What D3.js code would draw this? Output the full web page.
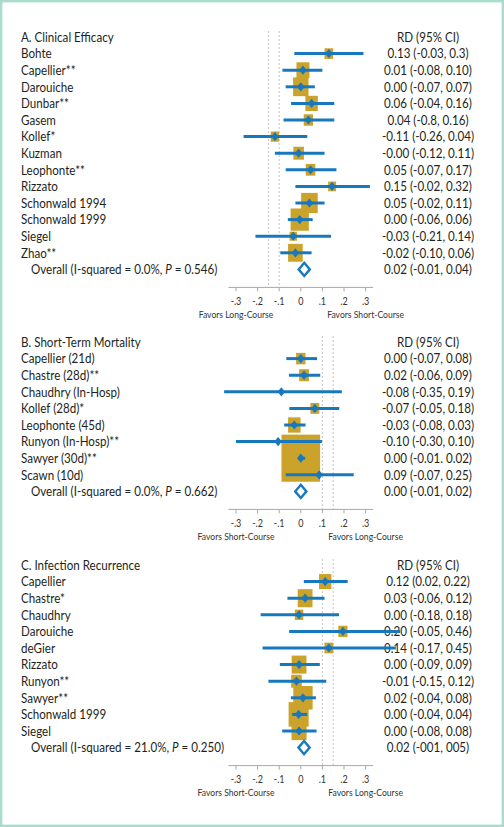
<!DOCTYPE html>
<html>
<head>
<meta charset="utf-8">
<script src="https://cdn.jsdelivr.net/npm/d3@7"></script>
<style>
  html, body { margin: 0; padding: 0; background: #fff; }
  svg { display: block; }
</style>
</head>
<body>
<svg id="chart" width="504" height="827"></svg>
<script>
// ---------------- DATA ----------------
const panelTitles = ["A. Clinical Efficacy", "B. Short-Term Mortality", "C. Infection Recurrence"];
const columnHeader = "RD (95% CI)";

// Panel A
const studiesA = ["Bohte", "Capellier**", "Darouiche", "Dunbar**", "Gasem", "Kollef*", "Kuzman", "Leophonte**", "Rizzato", "Schonwald 1994", "Schonwald 1999", "Siegel", "Zhao**"];
const estA = [0.13, 0.01, 0.00, 0.05, 0.035, -0.12, -0.01, 0.045, 0.145, 0.04, -0.005, -0.035, -0.025];
const loA  = [-0.03, -0.085, -0.07, -0.045, -0.08, -0.265, -0.12, -0.07, -0.025, -0.025, -0.06, -0.21, -0.095];
const hiA  = [0.29, 0.10, 0.065, 0.155, 0.155, 0.03, 0.11, 0.165, 0.32, 0.11, 0.055, 0.14, 0.05];
const weightA = [3.9, 8.7, 12.2, 8.0, 4.5, 3.6, 5.8, 4.8, 3.3, 14.2, 17.2, 2.8, 11.1];
const rdTextA = ["0.13 (-0.03, 0.3)", "0.01 (-0.08, 0.10)", "0.00 (-0.07, 0.07)", "0.06 (-0.04, 0.16)", "0.04 (-0.8, 0.16)", "-0.11 (-0.26, 0.04)", "-0.00 (-0.12, 0.11)", "0.05 (-0.07, 0.17)", "0.15 (-0.02, 0.32)", "0.05 (-0.02, 0.11)", "0.00 (-0.06, 0.06)", "-0.03 (-0.21, 0.14)", "-0.02 (-0.10, 0.06)"];

// Panel B
const studiesB = ["Capellier (21d)", "Chastre (28d)**", "Chaudhry (In-Hosp)", "Kollef (28d)*", "Leophonte (45d)", "Runyon (In-Hosp)**", "Sawyer (30d)**", "Scawn (10d)"];
const estB = [0.00, 0.015, -0.09, 0.065, -0.03, -0.105, 0.00, 0.085];
const loB  = [-0.067, -0.055, -0.355, -0.053, -0.077, -0.30, -0.01, -0.07];
const hiB  = [0.075, 0.09, 0.19, 0.178, 0.022, 0.098, 0.02, 0.245];
const weightB = [4.6, 5.0, 0.2, 4.1, 8.1, 0.5, 77.1, 0.5];
const rdTextB = ["0.00 (-0.07, 0.08)", "0.02 (-0.06, 0.09)", "-0.08 (-0.35, 0.19)", "-0.07 (-0.05, 0.18)", "-0.03 (-0.08, 0.03)", "-0.10 (-0.30, 0.10)", "0.00 (-0.01. 0.02)", "0.09 (-0.07, 0.25)"];

// Panel C
const studiesC = ["Capellier", "Chastre*", "Chaudhry", "Darouiche", "deGier", "Rizzato", "Runyon**", "Sawyer**", "Schonwald 1999", "Siegel"];
const estC = [0.113, 0.02, -0.008, 0.195, 0.13, -0.008, -0.02, 0.01, -0.01, -0.008];
const loC  = [0.014, -0.062, -0.186, -0.054, -0.177, -0.097, -0.15, -0.046, -0.04, -0.086];
const hiC  = [0.217, 0.11, 0.177, 0.46, 0.44, 0.088, 0.118, 0.07, 0.03, 0.073];
const weightC = [7.9, 11.3, 3.7, 4.4, 4.0, 11.3, 5.8, 19.3, 20.8, 11.7];
const rdTextC = ["0.12 (0.02, 0.22)", "0.03 (-0.06, 0.12)", "0.00 (-0.18, 0.18)", "0.20 (-0.05, 0.46)", "0.14 (-0.17, 0.45)", "0.00 (-0.09, 0.09)", "-0.01 (-0.15, 0.12)", "0.02 (-0.04, 0.08)", "0.00 (-0.04, 0.04)", "0.00 (-0.08, 0.08)"];

// Overall rows
const overallPre = ["Overall (I-squared = 0.0%, ", "Overall (I-squared = 0.0%, ", "Overall (I-squared = 21.0%, "];
const overallP = ["P", "P", "P"];
const overallPost = [" = 0.546)", " = 0.662)", " = 0.250)"];
const overallEst = [0.016, 0.0, 0.015];
const overallText = ["0.02 (-0.01, 0.04)", "0.00 (-0.01, 0.02)", "0.02 (-001, 005)"];

// Reference (margin) lines
const refLines = [[-0.15, -0.10], [0.10, 0.15], [0.10, 0.15]];

// Axis
const tickValues = [-0.3, -0.2, -0.1, 0, 0.1, 0.2, 0.3];
const tickLabels = ["-.3", "-.2", "-.1", "0", ".1", ".2", ".3"];
const favorsLeft = ["Favors Long-Course", "Favors Short-Course", "Favors Short-Course"];
const favorsRight = ["Favors Short-Course", "Favors Long-Course", "Favors Long-Course"];

// ---------------- STYLE / LAYOUT ----------------
const FONT = "Lato, 'Liberation Sans', sans-serif";
const SX = 0.86;              // horizontal compression of the original
const TEXT = "#231f20";
const BLUE = "#1878be";
const GOLD = "#cca32a";
const GRID = "#c4c4c4";
const panelTop = [37, 342, 565];
const rowStep = 16.6;

const svg = d3.select("#chart");

// frame
svg.append("rect")
  .attr("x", 1.2).attr("y", 1.2).attr("width", 501.6).attr("height", 824.6)
  .attr("fill", "none").attr("stroke", "#a9dccd").attr("stroke-width", 2.4);

const x = d3.scaleLinear().domain([-0.3, 0.3]).range([236, 365.6]);
const boxSize = d3.scaleSqrt().domain([0, 100]).range([0, 44]);

const panels = [
  {studies: studiesA, est: estA, lo: loA, hi: hiA, w: weightA, rd: rdTextA},
  {studies: studiesB, est: estB, lo: loB, hi: hiB, w: weightB, rd: rdTextB},
  {studies: studiesC, est: estC, lo: loC, hi: hiC, w: weightC, rd: rdTextC}
];

function addText(g, str, tx, ty, anchor, size, color) {
  return g.append("text")
    .attr("transform", `translate(${tx},${ty}) scale(${SX},1)`)
    .attr("dy", "0.36em")
    .attr("text-anchor", anchor)
    .attr("font-family", FONT)
    .attr("font-size", size)
    .attr("fill", color)
    .text(str);
}

panels.forEach((p, pi) => {
  const g = svg.append("g");
  const y = d3.scaleLinear().domain([0, 1]).range([panelTop[pi], panelTop[pi] + rowStep]);
  const n = p.studies.length;
  const overallRow = n + 1;
  const axisY = y(overallRow) + 18;

  const rows = p.studies.map((s, i) => ({
    name: s, est: p.est[i], lo: p.lo[i], hi: p.hi[i], w: p.w[i], rd: p.rd[i], row: i + 1
  }));

  // reference dashed lines
  g.selectAll("line.ref").data(refLines[pi]).join("line")
    .attr("class", "ref")
    .attr("x1", d => x(d)).attr("x2", d => x(d))
    .attr("y1", y(0) - 6).attr("y2", axisY)
    .attr("stroke", GRID).attr("stroke-width", 1)
    .attr("stroke-dasharray", "2,2");

  // axis
  const axisG = g.append("g").attr("transform", `translate(0,${axisY})`);
  axisG.append("line")
    .attr("x1", x(-0.335)).attr("x2", x(0.335))
    .attr("stroke", "#a8a8a8").attr("stroke-width", 1);
  axisG.selectAll("line.tick").data(tickValues).join("line")
    .attr("class", "tick")
    .attr("x1", d => x(d)).attr("x2", d => x(d))
    .attr("y1", 0).attr("y2", 4)
    .attr("stroke", "#a8a8a8").attr("stroke-width", 1);
  tickValues.forEach((v, i) => addText(axisG, tickLabels[i], x(v), 14, "middle", 10.5, "#333"));
  addText(axisG, favorsLeft[pi], x(-0.3), 27, "middle", 10, "#333");
  addText(axisG, favorsRight[pi], x(0.3), 27, "middle", 10, "#333");

  // title + header
  addText(g, panelTitles[pi], 21, y(0), "start", 13.5, TEXT);
  addText(g, columnHeader, 428, y(0), "middle", 13.5, TEXT);

  // study labels and RD text
  rows.forEach(r => {
    addText(g, r.name, 21, y(r.row), "start", 13.5, TEXT);
    addText(g, r.rd, 428, y(r.row), "middle", 13.5, TEXT);
  });

  // overall label
  const ot = addText(g, "", 31, y(overallRow), "start", 13.5, TEXT);
  ot.append("tspan").text(overallPre[pi]);
  ot.append("tspan").attr("font-style", "italic").text(overallP[pi]);
  ot.append("tspan").text(overallPost[pi]);
  addText(g, overallText[pi], 428, y(overallRow), "middle", 13.5, TEXT);

  // weight boxes
  g.selectAll("rect.box").data(rows).join("rect")
    .attr("class", "box")
    .attr("x", d => x(d.est) - boxSize(d.w) / 2)
    .attr("y", d => y(d.row) - boxSize(d.w) * 1.22 / 2)
    .attr("width", d => boxSize(d.w))
    .attr("height", d => boxSize(d.w) * 1.22)
    .attr("fill", GOLD);

  // CI lines
  g.selectAll("line.ci").data(rows).join("line")
    .attr("class", "ci")
    .attr("x1", d => x(d.lo)).attr("x2", d => x(d.hi))
    .attr("y1", d => y(d.row)).attr("y2", d => y(d.row))
    .attr("stroke", BLUE).attr("stroke-width", 3);

  // point markers
  g.selectAll("path.pt").data(rows).join("path")
    .attr("class", "pt")
    .attr("transform", d => `translate(${x(d.est)},${y(d.row)})`)
    .attr("d", "M0,-4.6L3.8,0L0,4.6L-3.8,0Z")
    .attr("fill", BLUE);

  // overall diamond
  g.append("path")
    .attr("transform", `translate(${x(overallEst[pi])},${y(overallRow)})`)
    .attr("d", "M0,-6.6L5.6,0L0,6.6L-5.6,0Z")
    .attr("fill", "#fff").attr("stroke", BLUE).attr("stroke-width", 2.4)
    .attr("stroke-linejoin", "miter");
});
</script>
</body>
</html>
